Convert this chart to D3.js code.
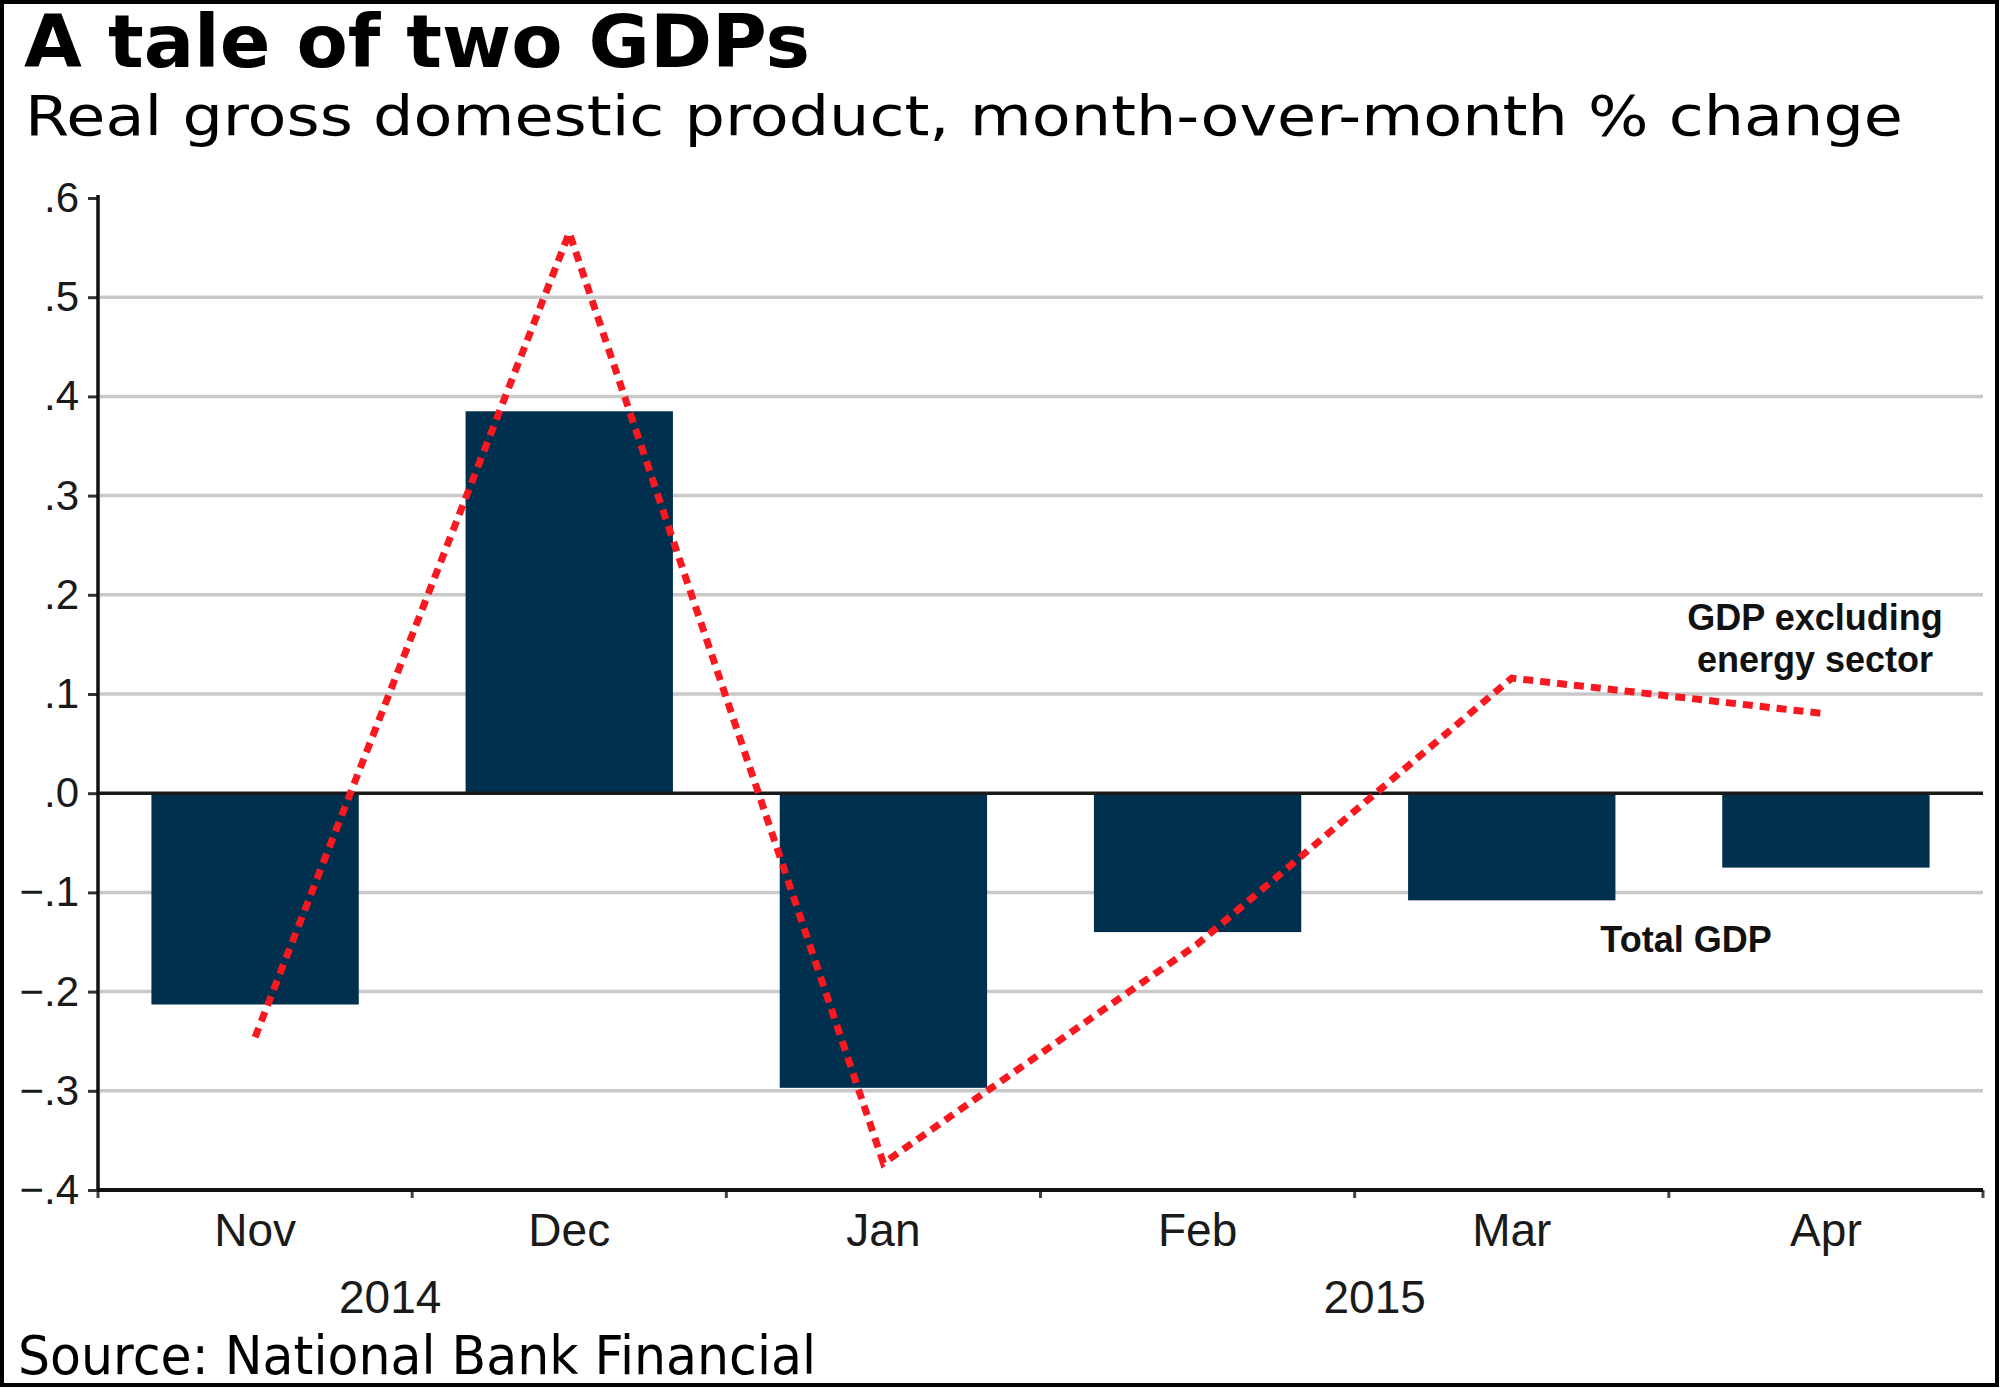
<!DOCTYPE html>
<html>
<head>
<meta charset="utf-8">
<script src="https://cdn.jsdelivr.net/npm/d3@7"></script>
<style>
  body { margin: 0; background: #fff; }
</style>
</head>
<body>
<svg width="2000" height="1388"></svg>
<script>
// chart data
var months = ['Nov', 'Dec', 'Jan', 'Feb', 'Mar', 'Apr'];
var totalGDP = [-0.213, 0.385, -0.297, -0.140, -0.108, -0.075];
var exEnergy = [-0.246, 0.565, -0.373, -0.152, 0.116, 0.080];
var yTicks = [0.6, 0.5, 0.4, 0.3, 0.2, 0.1, 0, -0.1, -0.2, -0.3, -0.4];
var years = ['2014', '2015'];
var yearMonths = [['Nov', 'Dec'], ['Jan', 'Feb', 'Mar', 'Apr']];

var svg = d3.select('svg');

// plot box (note: "top" is taken by window.top, so use other names)
var plotL = 98, plotR = 1983, plotT = 198, plotB = 1190;

svg.append('rect')
    .attr('width', 2000).attr('height', 1388)
    .attr('fill', '#fff');

var x = d3.scaleBand().domain(months).range([plotL, plotR])
    .paddingInner(0.34).paddingOuter(0.17);
var y = d3.scaleLinear().domain([-0.4, 0.6]).range([plotB, plotT]);

// gridlines (none at the top, bottom and at zero)
svg.append('g')
    .selectAll('line')
    .data(yTicks.filter(function(d){ return d !== 0 && d !== 0.6 && d !== -0.4; }))
    .enter()
    .append('line')
    .attr('x1', plotL + 2).attr('x2', plotR)
    .attr('y1', function(d){ return y(d); })
    .attr('y2', function(d){ return y(d); })
    .attr('stroke', '#c9c9c9')
    .attr('stroke-width', 3.5);

// bars
svg.append('g')
    .selectAll('rect')
    .data(months)
    .enter()
    .append('rect')
    .attr('x', function(d){ return x(d); })
    .attr('width', x.bandwidth())
    .attr('y', function(d, i){ return y(Math.max(0, totalGDP[i])); })
    .attr('height', function(d, i){ return Math.abs(y(totalGDP[i]) - y(0)); })
    .attr('fill', '#00304d');

// zero line
svg.append('line')
    .attr('x1', plotL).attr('x2', plotR)
    .attr('y1', y(0)).attr('y2', y(0))
    .attr('stroke', '#1a1a1a')
    .attr('stroke-width', 3.5);

// y axis
var yAxis = svg.append('g')
    .attr('transform', 'translate(' + plotL + ',0)')
    .call(d3.axisLeft(y)
        .tickValues(yTicks)
        .tickSize(10)
        .tickPadding(9)
        .tickFormat(function(d){
            return d3.format('.1f')(d).replace('0.', '.');
        }));
yAxis.select('.domain').remove();
yAxis.selectAll('.tick line').attr('stroke', '#333').attr('stroke-width', 3);
yAxis.selectAll('.tick text')
    .attr('font-family', 'Liberation Sans, Arial, sans-serif')
    .attr('font-size', 42)
    .attr('fill', '#1a1a1a');

svg.append('line')
    .attr('x1', plotL).attr('x2', plotL)
    .attr('y1', plotT - 3).attr('y2', plotB)
    .attr('stroke', '#111')
    .attr('stroke-width', 3.5);

// x axis
var xAxis = svg.append('g')
    .attr('transform', 'translate(0,' + plotB + ')')
    .call(d3.axisBottom(x).tickSize(0).tickPadding(23));
xAxis.select('.domain').remove();
xAxis.selectAll('.tick text')
    .attr('font-family', 'Liberation Sans, Arial, sans-serif')
    .attr('font-size', 46)
    .attr('fill', '#1a1a1a');

// boundary ticks between months
svg.append('g')
    .selectAll('line')
    .data(d3.range(months.length + 1))
    .enter()
    .append('line')
    .attr('x1', function(i){ return plotL + i * x.step(); })
    .attr('x2', function(i){ return plotL + i * x.step(); })
    .attr('y1', plotB)
    .attr('y2', plotB + 8)
    .attr('stroke', '#444')
    .attr('stroke-width', 3);

svg.append('line')
    .attr('x1', plotL - 1).attr('x2', plotR)
    .attr('y1', plotB).attr('y2', plotB)
    .attr('stroke', '#111')
    .attr('stroke-width', 4);

// year labels under their months
var yearNudge = [-22, 20];
svg.append('g')
    .selectAll('text')
    .data(years)
    .enter()
    .append('text')
    .text(function(d){ return d; })
    .attr('x', function(d, i){
        var m = yearMonths[i];
        var x0 = x(m[0]) - x.step() * x.paddingInner() / 2;
        var x1 = x(m[m.length - 1]) + x.bandwidth() + x.step() * x.paddingInner() / 2;
        return (x0 + x1) / 2 + yearNudge[i];
    })
    .attr('y', 1313)
    .attr('text-anchor', 'middle')
    .attr('font-family', 'Liberation Sans, Arial, sans-serif')
    .attr('font-size', 46)
    .attr('fill', '#1a1a1a');

// dotted line for GDP excluding energy
var line = d3.line()
    .x(function(d, i){ return x(months[i]) + x.bandwidth() / 2; })
    .y(function(d){ return y(d); });

svg.append('path')
    .datum(exEnergy)
    .attr('d', line)
    .attr('fill', 'none')
    .attr('stroke', '#f81820')
    .attr('stroke-width', 7)
    .attr('stroke-dasharray', '10,7');

// series labels
var labelFont = 'Liberation Sans, Arial, sans-serif';
svg.append('text').text('GDP excluding')
    .attr('x', 1815).attr('y', 630)
    .attr('text-anchor', 'middle')
    .attr('font-family', labelFont).attr('font-weight', 'bold')
    .attr('font-size', 36).attr('fill', '#111');
svg.append('text').text('energy sector')
    .attr('x', 1815).attr('y', 672)
    .attr('text-anchor', 'middle')
    .attr('font-family', labelFont).attr('font-weight', 'bold')
    .attr('font-size', 36).attr('fill', '#111');
svg.append('text').text('Total GDP')
    .attr('x', 1686).attr('y', 952)
    .attr('text-anchor', 'middle')
    .attr('font-family', labelFont).attr('font-weight', 'bold')
    .attr('font-size', 36).attr('fill', '#111');

// titles
svg.append('text').text('A tale of two GDPs')
    .attr('x', 24).attr('y', 67)
    .attr('font-family', 'DejaVu Sans, Verdana, sans-serif')
    .attr('font-weight', 'bold')
    .attr('font-size', 73)
    .attr('textLength', 786).attr('lengthAdjust', 'spacingAndGlyphs')
    .attr('fill', '#000');

svg.append('text').text('Real gross domestic product, month-over-month % change')
    .attr('x', 25).attr('y', 135)
    .attr('font-family', 'DejaVu Sans, Verdana, sans-serif')
    .attr('font-size', 55)
    .attr('textLength', 1878).attr('lengthAdjust', 'spacingAndGlyphs')
    .attr('fill', '#000');

svg.append('text').text('Source: National Bank Financial')
    .attr('x', 18).attr('y', 1374)
    .attr('font-family', 'DejaVu Sans, Verdana, sans-serif')
    .attr('font-size', 53)
    .attr('textLength', 798).attr('lengthAdjust', 'spacingAndGlyphs')
    .attr('fill', '#000');

// outer frame
svg.append('rect')
    .attr('x', 2).attr('y', 2)
    .attr('width', 1995).attr('height', 1383)
    .attr('fill', 'none')
    .attr('stroke', '#000')
    .attr('stroke-width', 4);
</script>
</body>
</html>
